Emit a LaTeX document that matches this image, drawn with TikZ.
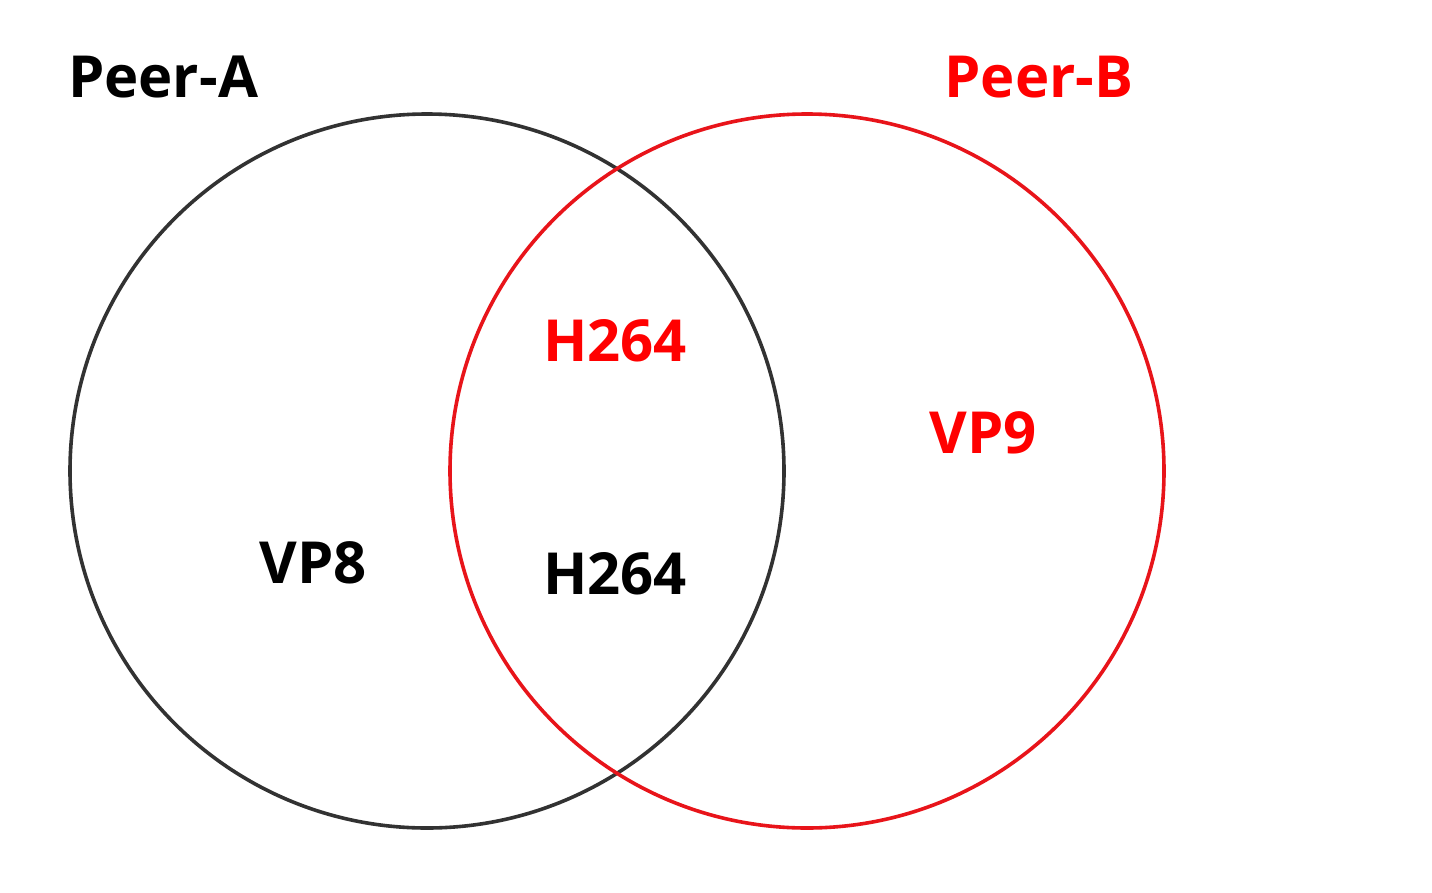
\documentclass[tikz,border=0pt]{standalone}
\usepackage{fontspec}
\setmainfont{Open Sans}
\begin{document}
\begin{tikzpicture}[x=1pt,y=-1pt,
  ring/.style={line width=3.6pt},
  lbl/.style={font=\fontsize{58}{62}\selectfont\bfseries, inner sep=0pt, anchor=base}]
\definecolor{peerred}{RGB}{232,20,26}
\definecolor{peergray}{RGB}{50,50,50}
\useasboundingbox[fill=white] (0,0) rectangle (1432,892);
% the two codec sets
\draw[ring, peergray] (427,471) circle (357);
\draw[ring, peerred] (807,471) circle (357);
% labels
\node[lbl] (pa) at (163,97) {Peer-A};
\node[lbl, text=red] (pb) at (1039,97) {Peer-B};
\node[lbl, text=red] (h264b) at (615,361) {H264};
\node[lbl, text=red] (vp9) at (983,453) {VP9};
\node[lbl] (vp8) at (313,583) {VP8};
\node[lbl] (h264a) at (615,594) {H264};
\end{tikzpicture}
\end{document}
